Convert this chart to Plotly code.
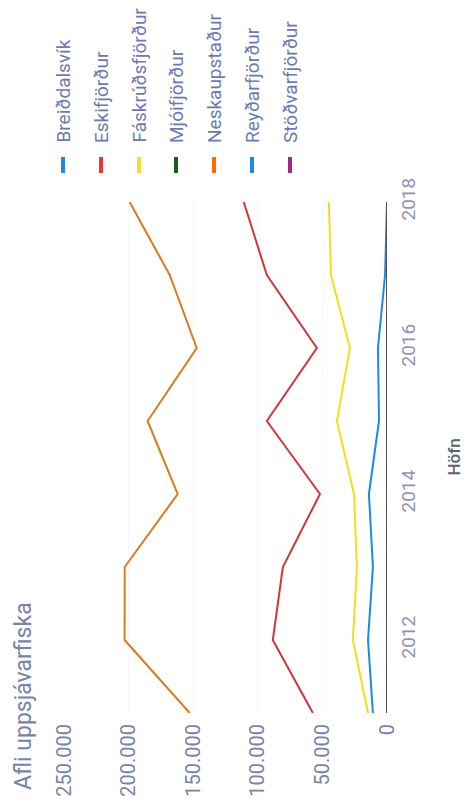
import plotly.graph_objects as go

years = [2011, 2012, 2013, 2014, 2015, 2016, 2017, 2018]
breiddalsvik = [0, 0, 0, 0, 0, 0, 0, 0]
eskifjordur = [57400, 88400, 80600, 51900, 93000, 54300, 93000, 110900]
faskrudsfjordur = [14700, 26400, 23300, 25600, 38800, 28700, 43400, 45000]
mjoifjordur = [0, 0, 0, 0, 0, 0, 0, 0]
neskaupstadur = [152700, 203100, 203000, 162000, 185300, 147300, 168200, 199200]
reydarfjordur = [10900, 14700, 10900, 14000, 6200, 7000, 1500, 0]
stodvarfjordur = [0, 0, 0, 0, 0, 0, 0, 0]

names = ["Breiðdalsvík", "Eskifjörður", "Fáskrúðsfjörður", "Mjóifjörður",
         "Neskaupstaður", "Reyðarfjörður", "Stöðvarfjörður"]
series = [breiddalsvik, eskifjordur, faskrudsfjordur, mjoifjordur,
          neskaupstadur, reydarfjordur, stodvarfjordur]
legend_colors = ["#1e88e5", "#e53935", "#fdd835", "#1b5e20",
                 "#ff6d00", "#1e88e5", "#9c2a8c"]
line_colors = ["#1e88e5", "#d2353b", "#f7dc1c", "#2e3a30",
               "#dc7a1e", "#1e88e5", "#55505e"]
draw_order = [0, 3, 5, 6, 1, 2, 4]

# page offset caused by the default body margin of the html page
OFF = 8
PAGE_W, PAGE_H = 471, 804
W, H = PAGE_W - OFF, PAGE_H - 2 * OFF
# plot area in page pixels
P_LEFT, P_RIGHT, P_TOP, P_BOTTOM = 64, 387, 202, 713
ML = P_LEFT - OFF
MR = W - (P_RIGHT - OFF)
MT = P_TOP - OFF
MB = H - (P_BOTTOM - OFF)
PW, PH = P_RIGHT - P_LEFT, P_BOTTOM - P_TOP


def px(x):
    return (x - P_LEFT) / PW


def py(y):
    return (P_BOTTOM - y) / PH


fig = go.Figure()
for i in draw_order:
    fig.add_trace(go.Scatter(
        x=series[i], y=years, mode="lines", name=names[i],
        line=dict(color=line_colors[i], width=2),
        showlegend=False, cliponaxis=False))

ann = []
shapes = []
leg_x = [63, 101, 139, 176, 214, 252, 290]
for i, n in enumerate(names):
    ann.append(dict(text=n, x=px(leg_x[i]), y=py(145), xref="paper", yref="paper",
                    textangle=-90, showarrow=False, xanchor="center", yanchor="bottom",
                    font=dict(family="Roboto", size=19, color="#6c79b2")))
    shapes.append(dict(type="rect", xref="paper", yref="paper",
                       x0=px(leg_x[i] - 2), x1=px(leg_x[i] + 2),
                       y0=py(173), y1=py(157), fillcolor=legend_colors[i],
                       line=dict(width=0)))
ann.append(dict(text="Afli uppsjávarfiska", x=px(23), y=py(792), xref="paper", yref="paper",
                textangle=-90, showarrow=False, xanchor="center", yanchor="bottom",
                font=dict(family="Roboto", size=23, color="#7783a9")))
ann.append(dict(text="Höfn", x=px(453), y=0.5, xref="paper", yref="paper",
                textangle=-90, showarrow=False, xanchor="center", yanchor="middle",
                font=dict(family="Roboto", size=17, color="#5a6272", weight=500)))

fig.update_layout(
    width=W, height=H,
    margin=dict(l=ML, r=MR, t=MT, b=MB, autoexpand=False),
    paper_bgcolor="white", plot_bgcolor="white",
    separators=",.",
    font=dict(family="Roboto", color="#7783a9"),
    annotations=ann, shapes=shapes, showlegend=False,
    xaxis=dict(range=[250000, 0], tickvals=[0, 50000, 100000, 150000, 200000, 250000],
               tickformat=",d", tickangle=-90, showgrid=True, gridcolor="#f6f6f8",
               zeroline=False, showline=False, ticks="", ticklabelstandoff=6,
               automargin=False,
               tickfont=dict(family="Roboto", size=20, color="#7783a9")),
    yaxis=dict(range=[2011, 2018], side="right", tickvals=[2012, 2014, 2016, 2018],
               tickangle=-90, showgrid=False, zeroline=False, showline=False, ticks="",
               ticklabelstandoff=8, automargin=False,
               tickfont=dict(family="Roboto", size=19, color="#8b96b8")),
)

fig.write_html("out.html")
